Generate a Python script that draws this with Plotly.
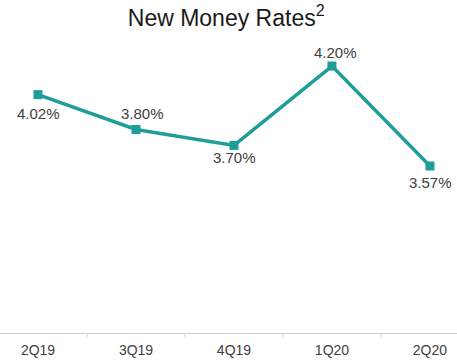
import plotly.graph_objects as go

quarters = ["2Q19", "3Q19", "4Q19", "1Q20", "2Q20"]
rates = [4.02, 3.80, 3.70, 4.20, 3.57]
# label offsets (px) relative to each point
label_dx = [0, 6, 1, 4, 1]
label_dy = [-19, 16, -12, 14, -16]

teal = "#1f9e99"
txt = "#404040"
font = "Liberation Sans, Arial, sans-serif"

fig = go.Figure()
fig.add_trace(go.Scatter(
    x=list(range(len(quarters))), y=rates,
    mode="lines+markers",
    line=dict(color=teal, width=3.5),
    marker=dict(symbol="square", size=9, color=teal),
    cliponaxis=False,
    hoverinfo="skip",
))

for i, v in enumerate(rates):
    fig.add_annotation(
        x=i, y=v, xref="x", yref="y",
        text=f"{v:.2f}%", showarrow=False,
        xshift=label_dx[i], yshift=label_dy[i],
        font=dict(family=font, size=15, color=txt),
        xanchor="center", yanchor="middle",
    )

fig.update_layout(
    width=457, height=360,
    margin=dict(l=0, r=0, t=40, b=27),
    paper_bgcolor="white", plot_bgcolor="white",
    showlegend=False,
    title=dict(
        text="New Money Rates<sup>2</sup>",
        x=0.495, xanchor="center", y=0.95, yanchor="middle",
        font=dict(family=font, size=23, color="#1a1a1a"),
    ),
    xaxis=dict(
        tickmode="array",
        tickvals=list(range(len(quarters))),
        ticktext=quarters,
        range=[-0.388, 4.276],
        showgrid=False, zeroline=False,
        showline=True, linecolor="#d0d0d0", linewidth=1,
        ticks="", ticklabelstandoff=4,
        tickfont=dict(family=font, size=14, color=txt),
    ),
    yaxis=dict(
        range=[2.518, 4.364],
        visible=False, showgrid=False, zeroline=False,
    ),
)

# category boundary tick marks
for b in [0.5, 1.5, 2.5, 3.5]:
    fig.add_shape(type="line", xref="x", yref="paper", x0=b, x1=b, y0=0, y1=-0.015,
                  line=dict(color="#d0d0d0", width=1))

fig.write_html("out.html")
